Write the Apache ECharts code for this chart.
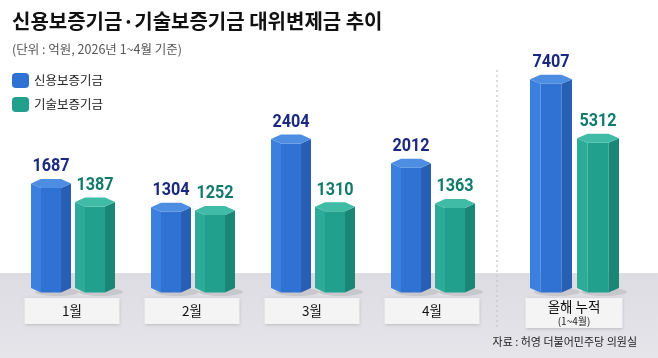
<!DOCTYPE html>
<html>
<head>
<meta charset="UTF-8">
<title>신용보증기금·기술보증기금 대위변제금 추이</title>
<style>
  html, body { margin: 0; padding: 0; background: #fff; }
  #chart { width: 658px; height: 358px; }
</style>
</head>
<body>
<div id="chart"></div>
<script src="https://cdn.jsdelivr.net/npm/echarts@6/dist/echarts.min.js"></script>
<script>
// 월별 데이터 (억원)
var months = ['1월', '2월', '3월', '4월'];
var koditMonthly = [1687, 1304, 2404, 2012];   // 신용보증기금
var kiboMonthly = [1387, 1252, 1310, 1363];    // 기술보증기금
// 올해 누적 (1~4월)
var totalLabel = ['올해 누적'];
var koditTotal = [7407];
var kiboTotal = [5312];

var FONT = '"Noto Sans CJK KR", "Noto Sans", sans-serif';
var NUM_FONT = 'Roboto, "Noto Sans", sans-serif';

var palette = {
    blue:  { left: '#3b80de', mid: '#2f72d3', right: '#275fb4', cap: '#4d8de2', label: '#1b2a80' },
    green: { left: '#2bab98', mid: '#21a08d', right: '#1a8676', cap: '#3fbba6', label: '#137b6c' }
};

// 육각기둥 막대 그리기
function hexBar(colors, offset, width) {
    return function (params, api) {
        var idx = api.value(0);
        var val = api.value(1);
        var top = api.coord([idx, val]);
        var base = api.coord([idx, 0]);
        var cx = top[0] + offset;
        var L = cx - width / 2, R = cx + width / 2;
        var a = L + width * 0.25, b = L + width * 0.75;
        var y = top[1], h = 4.5, yb = base[1];
        return {
            type: 'group',
            children: [
                { type: 'ellipse', shape: { cx: cx + 6, cy: yb + 4, rx: width * 0.55, ry: 4 },
                  style: { fill: 'rgba(0,0,0,0.10)' }, z2: 0 },
                { type: 'polygon', shape: { points: [[L, y], [a, y + h], [a, yb + h], [L, yb]] },
                  style: { fill: colors.left }, z2: 1 },
                { type: 'polygon', shape: { points: [[a, y + h], [b, y + h], [b, yb + h], [a, yb + h]] },
                  style: { fill: colors.mid }, z2: 1 },
                { type: 'polygon', shape: { points: [[b, y + h], [R, y], [R, yb], [b, yb + h]] },
                  style: { fill: colors.right }, z2: 1 },
                { type: 'polygon', shape: { points: [[L, y], [a, y - h], [b, y - h], [R, y], [b, y + h], [a, y + h]] },
                  style: { fill: colors.cap }, z2: 2 },
                { type: 'text', x: cx, y: y - h - 3, scaleX: 0.9, z2: 3,
                  style: { text: String(val), align: 'center', verticalAlign: 'bottom',
                           fill: colors.label, font: 'bold 18px ' + NUM_FONT } }
            ]
        };
    };
}

var chart = echarts.init(document.getElementById('chart'));

var option = {
    animation: false,
    textStyle: { fontFamily: FONT },
    color: [palette.blue.mid, palette.green.mid],
    title: {
        text: '신용보증기금·기술보증기금 대위변제금 추이',
        subtext: '(단위 : 억원, 2026년 1~4월 기준)',
        left: 7, top: 6,
        itemGap: 12,
        textStyle: { fontFamily: FONT, fontSize: 20, fontWeight: 'bold', color: '#111' },
        subtextStyle: { fontFamily: FONT, fontSize: 12.5, color: '#555' }
    },
    legend: {
        data: ['신용보증기금', '기술보증기금'],
        orient: 'vertical',
        left: 7, top: 68,
        icon: 'roundRect',
        itemWidth: 17, itemHeight: 15, itemGap: 9,
        textStyle: { fontFamily: FONT, fontSize: 12.5, color: '#222' }
    },
    graphic: [
        { type: 'rect', shape: { x: 0, y: 273, width: 658, height: 85 },
          style: { fill: new echarts.graphic.LinearGradient(0, 0, 0, 1, [
              { offset: 0, color: '#dddce2' }, { offset: 1, color: '#e6e5ea' }]) }, z: -10 },
        { type: 'line', shape: { x1: 497, y1: 70, x2: 497, y2: 328 },
          style: { stroke: '#c4c4c8', lineWidth: 1.2, lineDash: [2, 3] }, z: -5 },
        { type: 'text', right: 21, top: 336,
          style: { text: '자료 : 허영 더불어민주당 의원실', font: '11px ' + FONT, fill: '#222' } }
    ],
    grid: [
        { left: 12, width: 480, top: 40, bottom: 70 },
        { left: 514, width: 120, top: 40, bottom: 70 }
    ],
    xAxis: [
        {
            gridIndex: 0, type: 'category', data: months,
            axisLine: { show: false }, axisTick: { show: false },
            axisLabel: {
                margin: 10, width: 95, height: 26, lineHeight: 26, align: 'center',
                backgroundColor: '#f4f4f5', shadowColor: 'rgba(0,0,0,0.18)', shadowBlur: 3, shadowOffsetY: 1,
                fontFamily: FONT, fontSize: 13.5, color: '#111'
            }
        },
        {
            gridIndex: 1, type: 'category', data: totalLabel,
            axisLine: { show: false }, axisTick: { show: false },
            axisLabel: {
                margin: 10, width: 97, height: 30, align: 'center',
                backgroundColor: '#f4f4f5', shadowColor: 'rgba(0,0,0,0.18)', shadowBlur: 3, shadowOffsetY: 1,
                formatter: function (v) { return '{a|' + v + '}\n{b|(1~4월)}'; },
                rich: {
                    a: { fontFamily: FONT, fontSize: 13.5, color: '#111', lineHeight: 17, align: 'center' },
                    b: { fontFamily: FONT, fontSize: 10, color: '#222', lineHeight: 12, align: 'center' }
                }
            }
        }
    ],
    yAxis: [
        { gridIndex: 0, type: 'value', min: 0, max: 4000, show: false },
        { gridIndex: 1, type: 'value', min: 0, max: 8800, show: false }
    ],
    series: [
        { name: '신용보증기금', type: 'custom', xAxisIndex: 0, yAxisIndex: 0,
          itemStyle: { color: palette.blue.mid },
          renderItem: hexBar(palette.blue, -21, 40),
          data: koditMonthly.map(function (v, i) { return [i, v]; }) },
        { name: '기술보증기금', type: 'custom', xAxisIndex: 0, yAxisIndex: 0,
          itemStyle: { color: palette.green.mid },
          renderItem: hexBar(palette.green, 23, 40),
          data: kiboMonthly.map(function (v, i) { return [i, v]; }) },
        { name: '신용보증기금', type: 'custom', xAxisIndex: 1, yAxisIndex: 1,
          itemStyle: { color: palette.blue.mid },
          renderItem: hexBar(palette.blue, -23, 42),
          data: koditTotal.map(function (v, i) { return [i, v]; }) },
        { name: '기술보증기금', type: 'custom', xAxisIndex: 1, yAxisIndex: 1,
          itemStyle: { color: palette.green.mid },
          renderItem: hexBar(palette.green, 24, 42),
          data: kiboTotal.map(function (v, i) { return [i, v]; }) }
    ]
};

chart.setOption(option);
</script>
</body>
</html>
